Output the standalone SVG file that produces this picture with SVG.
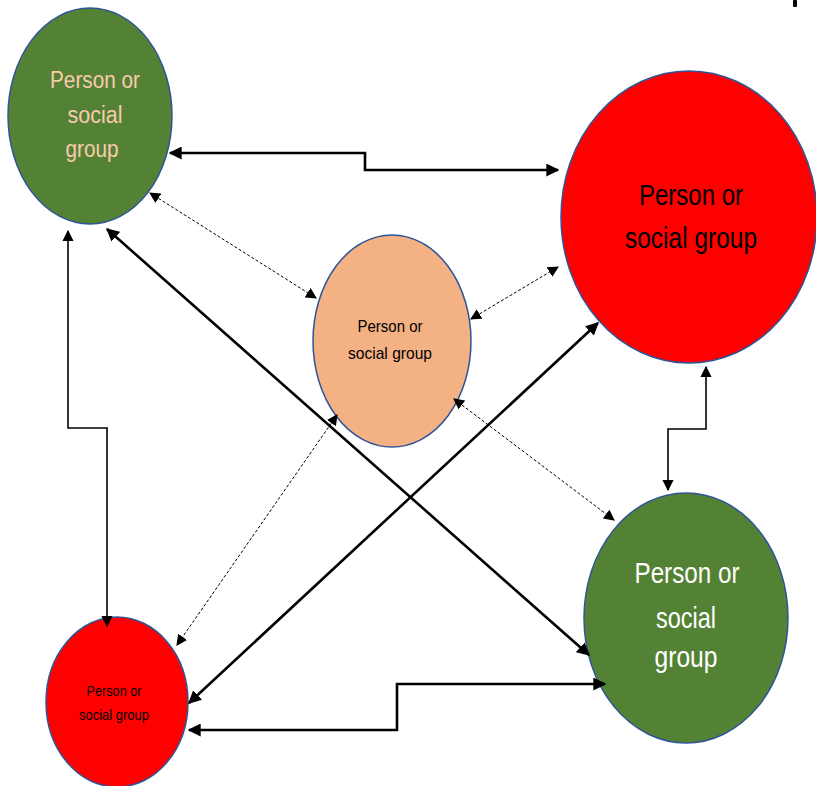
<svg xmlns="http://www.w3.org/2000/svg" width="816" height="786" viewBox="0 0 816 786">
<style>
.node{stroke:#2F5597;stroke-width:1.5}
.t{font-family:"Liberation Sans",Arial,sans-serif;text-anchor:middle}
.thick{fill:none;stroke:#000;stroke-width:2.6;marker-start:url(#ah);marker-end:url(#ah)}
.thin{fill:none;stroke:#000;stroke-width:1.6;marker-start:url(#ahs);marker-end:url(#ahs)}
.dash{fill:none;stroke:#000;stroke-width:1;stroke-dasharray:3 2;marker-start:url(#ahd);marker-end:url(#ahd)}
</style>
<defs>
<marker id="ah" viewBox="0 0 10 10" refX="9" refY="5" markerWidth="5" markerHeight="5" orient="auto-start-reverse" markerUnits="strokeWidth"><path d="M0,0 L10,5 L0,10 z" fill="#000"/></marker>
<marker id="ahs" viewBox="0 0 10 10" refX="9" refY="5" markerWidth="7" markerHeight="7" orient="auto-start-reverse" markerUnits="strokeWidth"><path d="M0,0 L10,5 L0,10 z" fill="#000"/></marker>
<marker id="ahd" viewBox="0 0 10 10" refX="9" refY="5" markerWidth="11" markerHeight="11" orient="auto-start-reverse" markerUnits="strokeWidth"><path d="M0,0 L10,5 L0,10 z" fill="#000"/></marker>
</defs>
<rect width="816" height="786" fill="#fff"/>
<rect x="793" y="0" width="4" height="7" rx="1" fill="#000"/>
<g id="n1">
<ellipse class="node" cx="90" cy="116" rx="82" ry="108" fill="#548235"/>
<text class="t" font-size="23" fill="#F8CBAD"><tspan x="95" y="88" textLength="90" lengthAdjust="spacingAndGlyphs">Person or</tspan><tspan x="95" y="123" textLength="55" lengthAdjust="spacingAndGlyphs">social</tspan><tspan x="92" y="157" textLength="53" lengthAdjust="spacingAndGlyphs">group</tspan></text>
</g>
<g id="n2">
<ellipse class="node" cx="689" cy="217" rx="128" ry="146" fill="#FF0000"/>
<text class="t" font-size="29" fill="#000"><tspan x="691" y="205" textLength="104" lengthAdjust="spacingAndGlyphs">Person or</tspan><tspan x="691" y="248" textLength="132" lengthAdjust="spacingAndGlyphs">social group</tspan></text>
</g>
<g id="n3">
<ellipse class="node" cx="392" cy="341" rx="79" ry="106" fill="#F4B183"/>
<text class="t" font-size="17" fill="#000"><tspan x="390" y="332" textLength="65" lengthAdjust="spacingAndGlyphs">Person or</tspan><tspan x="390" y="359" textLength="84" lengthAdjust="spacingAndGlyphs">social group</tspan></text>
</g>
<g id="n4">
<ellipse class="node" cx="117" cy="702" rx="71" ry="85" fill="#FF0000"/>
<text class="t" font-size="15" fill="#000"><tspan x="114" y="696" textLength="55" lengthAdjust="spacingAndGlyphs">Person or</tspan><tspan x="114" y="720" textLength="70" lengthAdjust="spacingAndGlyphs">social group</tspan></text>
</g>
<g id="n5">
<ellipse class="node" cx="686" cy="618" rx="102" ry="125" fill="#548235"/>
<text class="t" font-size="29" fill="#FFFFFF"><tspan x="687" y="583" textLength="105" lengthAdjust="spacingAndGlyphs">Person or</tspan><tspan x="686" y="628" textLength="60" lengthAdjust="spacingAndGlyphs">social</tspan><tspan x="686" y="667" textLength="63" lengthAdjust="spacingAndGlyphs">group</tspan></text>
</g>
<g id="connectors">
<path class="thick" d="M170,153 H365 V170 H558"/>
<path class="thin" d="M68,231 V428 H107 V626"/>
<path class="thick" d="M107,229 L589,655"/>
<path class="thick" d="M189,703 L598,323"/>
<path class="thick" d="M189,730 H397 V684 H605"/>
<path class="thin" d="M706,367 V429 H668 V490"/>
<path class="dash" d="M150,193 L316,298"/>
<path class="dash" d="M471,319 L558,267"/>
<path class="dash" d="M454,399 L614,520"/>
<path class="dash" d="M337,415 L177,645"/>
</g>
</svg>
